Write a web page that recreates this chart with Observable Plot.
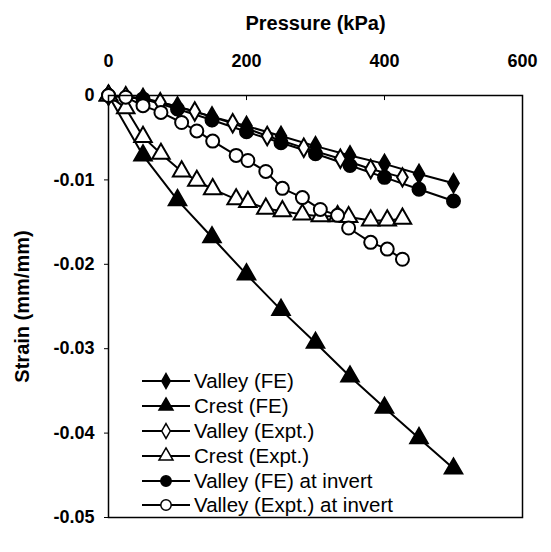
<!DOCTYPE html>
<html>
<head>
<meta charset="utf-8">
<script src="https://cdn.jsdelivr.net/npm/d3@7"></script>
<script src="https://cdn.jsdelivr.net/npm/@observablehq/plot@0.6"></script>
<style>
  html, body { margin: 0; padding: 0; background: #fff; }
  #wrap { position: relative; width: 551px; height: 552px; font-family: "Liberation Sans", Arial, sans-serif; }
  #chart svg text { font-weight: bold; font-size: 18px; fill: #000; }
  #chart svg g[aria-label="x-axis label"] text, #chart svg g[aria-label="y-axis label"] text { font-size: 20px; }
  #legend { position: absolute; left: 140px; top: 369px; }
  .row { display: flex; align-items: center; height: 24.8px; }
  .row span { font-size: 20.5px; color: #000; margin-left: 2px; white-space: nowrap; }
</style>
</head>
<body>
<div id="wrap">
  <div id="chart"></div>
  <div id="legend"></div>
</div>
<script>
// Pressure (kPa) for FE series
const pFE = [0, 50, 100, 150, 200, 250, 300, 350, 400, 450, 500];
const valleyFE = [0, -0.0003, -0.0013, -0.0025, -0.0036, -0.0048, -0.0060, -0.0071, -0.0081, -0.0093, -0.0104];
const crestFE = [0, -0.0071, -0.0124, -0.0168, -0.0212, -0.0254, -0.0293, -0.0333, -0.0370, -0.0406, -0.0442];
const valleyFEInvert = [0, -0.0004, -0.0016, -0.0029, -0.0043, -0.0056, -0.0069, -0.0083, -0.0097, -0.0111, -0.0125];

// Experimental series
const pValleyExpt = [0, 25, 75, 125, 180, 230, 283, 336, 380, 426];
const valleyExpt = [0, -0.0001, -0.0008, -0.0019, -0.0033, -0.0048, -0.0062, -0.0075, -0.0087, -0.0097];
const pExpt = [0, 25, 50, 76, 106, 128, 151, 185, 202, 228, 252, 281, 307, 332, 348, 380, 404, 426];
const crestExpt = [0, -0.0015, -0.0049, -0.0069, -0.0090, -0.0101, -0.0111, -0.0123, -0.0126, -0.0134, -0.0137, -0.0141, -0.0143, -0.0143, -0.0144, -0.0148, -0.0148, -0.0146];
const valleyExptInvert = [0, -0.0002, -0.0012, -0.0020, -0.0032, -0.0042, -0.0054, -0.0071, -0.0077, -0.0090, -0.0110, -0.0121, -0.0135, -0.0142, -0.0157, -0.0174, -0.0182, -0.0194];

const xTicks = [0, 200, 400, 600];
const yTicks = [0, -0.01, -0.02, -0.03, -0.04, -0.05];

const seriesNames = ["Valley (FE)", "Crest (FE)", "Valley (Expt.)", "Crest (Expt.)", "Valley (FE) at invert", "Valley (Expt.) at invert"];
const seriesSymbols = ["diamond", "triangle", "diamond", "triangle", "circle", "circle"];
const seriesFilled = [true, true, false, false, true, false];
const seriesR = [5.6, 6.5, 5.6, 6.5, 6.5, 6.5];

const seriesP = [pFE, pFE, pValleyExpt, pExpt, pFE, pExpt];
const seriesS = [valleyFE, crestFE, valleyExpt, crestExpt, valleyFEInvert, valleyExptInvert];

const tables = seriesNames.map((name, i) => seriesP[i].map((p, j) => ({p, s: seriesS[i][j], name})));

const dataMarks = [];
tables.forEach((t, i) => {
  dataMarks.push(Plot.line(t, {x: "p", y: "s", stroke: "black", strokeWidth: 2}));
});
tables.forEach((t, i) => {
  dataMarks.push(Plot.dot(t, {
    x: "p", y: "s", symbol: () => seriesSymbols[i], r: seriesR[i],
    fill: seriesFilled[i] ? "black" : "white", stroke: "black", strokeWidth: 2
  }));
});

const chart = Plot.plot({
  width: 551, height: 552,
  marginTop: 95, marginLeft: 108, marginRight: 29, marginBottom: 35,
  style: {fontFamily: "'Liberation Sans', Arial, sans-serif", background: "white", overflow: "visible"},
  x: {domain: [0, 600]},
  y: {domain: [-0.05, 0]},
  marks: [
    Plot.axisX({anchor: "top", ticks: xTicks, tickSize: 0, tickPadding: 29, tickFormat: d => String(d),
      label: "Pressure (kPa)", labelAnchor: "center", labelOffset: 80, labelArrow: "none"}),
    Plot.axisY({anchor: "left", ticks: yTicks, tickSize: 4, tickPadding: 10, tickFormat: d => String(+d.toFixed(2)),
      label: "Strain (mm/mm)", labelAnchor: "center", labelOffset: 94, labelArrow: "none"}),
    Plot.ruleX(xTicks.slice(1, 3), {x: d => d, y1: 0, y2: -0.0006, stroke: "black", strokeWidth: 1}),
    ...dataMarks,
    Plot.frame({stroke: "black", strokeWidth: 1.5})
  ]
});
document.getElementById("chart").appendChild(chart);

// Legend
const legend = d3.select("#legend");
seriesNames.forEach((name, i) => {
  const row = legend.append("div").attr("class", "row");
  const svg = row.append("svg").attr("width", 52).attr("height", 20);
  svg.append("line").attr("x1", 2).attr("x2", 50).attr("y1", 10).attr("y2", 10)
    .attr("stroke", "black").attr("stroke-width", 2);
  const sym = {diamond: d3.symbolDiamond, triangle: d3.symbolTriangle, circle: d3.symbolCircle}[seriesSymbols[i]];
  const r = seriesR[i] * 0.8;
  svg.append("path").attr("d", d3.symbol(sym, Math.PI * r * r)())
    .attr("transform", "translate(26,10)")
    .attr("fill", seriesFilled[i] ? "black" : "white").attr("stroke", "black").attr("stroke-width", 1.5);
  row.append("span").text(name);
});
</script>
</body>
</html>
